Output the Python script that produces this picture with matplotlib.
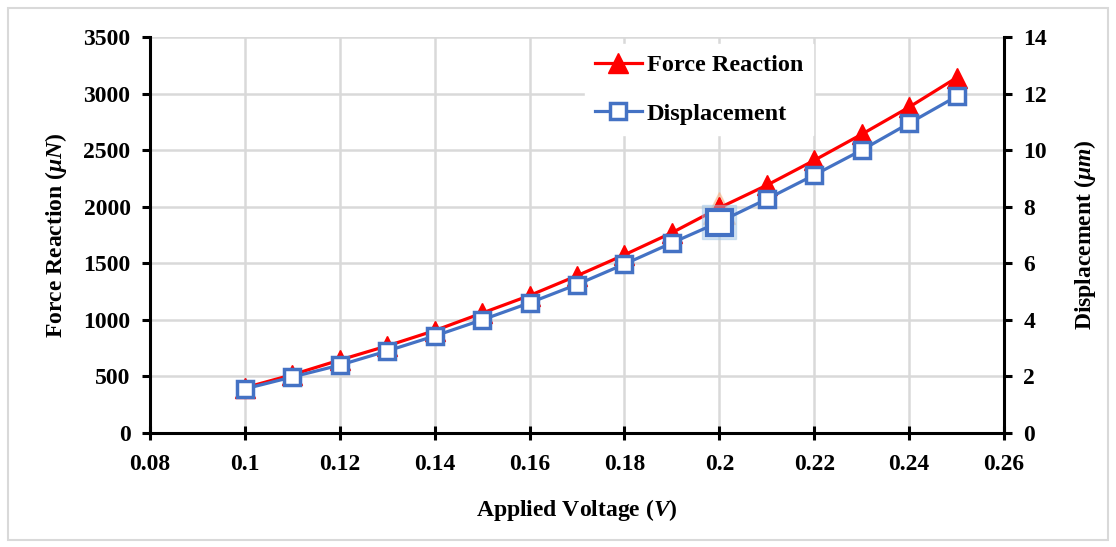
import matplotlib

matplotlib.use("Agg")
import matplotlib.pyplot as plt
from matplotlib.patches import Rectangle

# data
voltage = [0.10, 0.11, 0.12, 0.13, 0.14, 0.15, 0.16, 0.17,
           0.18, 0.19, 0.20, 0.21, 0.22, 0.23, 0.24, 0.25]
force_reaction = [400, 515, 645, 770, 905, 1060, 1215, 1390,
                  1575, 1770, 1990, 2190, 2410, 2640, 2880, 3140]
displacement = [1.56, 1.98, 2.40, 2.90, 3.43, 4.00, 4.60, 5.25,
                5.97, 6.72, 7.46, 8.27, 9.12, 10.00, 10.95, 11.90]
selected = 10  # the highlighted point at 0.2 V

RED = "#FF0000"
BLUE = "#4472C4"
GRID = "#D9D9D9"

plt.rcParams["font.family"] = ["Liberation Serif", "DejaVu Serif"]
plt.rcParams["font.weight"] = "bold"
plt.rcParams["axes.labelweight"] = "bold"
plt.rcParams["mathtext.fontset"] = "custom"
plt.rcParams["mathtext.it"] = "Liberation Serif:italic:bold"
plt.rcParams["mathtext.rm"] = "Liberation Serif:bold"

fig = plt.figure(figsize=(11.16, 5.47), dpi=100)
fig.patches.append(Rectangle((8 / 1116, 7 / 547), 1100 / 1116, 532 / 547,
                             transform=fig.transFigure, fill=False,
                             edgecolor=GRID, linewidth=1.5))

ax = fig.add_axes([150 / 1116, (547 - 433) / 547, 854 / 1116, 396 / 547])
ax2 = ax.twinx()

ax.plot(voltage, force_reaction, color=RED, linewidth=2.3, marker="^",
        markersize=14, markerfacecolor=RED, markeredgecolor=RED,
        label="Force Reaction", zorder=3)
ax.plot(voltage[selected], force_reaction[selected], marker="^",
        markersize=23, color="#F4B183", alpha=0.5, zorder=2)
ax.plot(voltage[selected], force_reaction[selected], marker="^",
        markersize=16, color=RED, zorder=4)

ax2.plot(voltage, displacement, color=BLUE, linewidth=2.3, marker="s",
         markersize=11, markerfacecolor="white", markeredgecolor=BLUE,
         markeredgewidth=2.5, label="Displacement", zorder=3)
ax2.plot(voltage[selected], displacement[selected], marker="s",
         markersize=25, color="#9DC3E6", alpha=0.45, zorder=2)
ax2.plot(voltage[selected], displacement[selected], marker="s",
         markersize=18, markerfacecolor="white", markeredgecolor=BLUE,
         markeredgewidth=3, zorder=4)

ax.set_xlim(0.08, 0.26)
ax.set_ylim(0, 3500)
ax2.set_ylim(0, 14)
ax.set_xticks([0.08 + 0.02 * i for i in range(10)])
ax.set_xticklabels(["0.08", "0.1", "0.12", "0.14", "0.16", "0.18",
                    "0.2", "0.22", "0.24", "0.26"])
ax.set_yticks(range(0, 3501, 500))
ax2.set_yticks(range(0, 15, 2))

ax.grid(True, color=GRID, linewidth=1.8)
ax.set_axisbelow(True)

for a in (ax, ax2):
    a.spines["top"].set_visible(False)
    for side in ("left", "right", "bottom"):
        a.spines[side].set_linewidth(2.2)
        a.spines[side].set_color("black")
ax.spines["right"].set_visible(False)
ax2.spines["left"].set_visible(False)
ax2.spines["bottom"].set_visible(False)

ax.tick_params(axis="y", direction="out", length=6, width=2.2,
               labelsize=17, pad=8)
ax.tick_params(axis="x", direction="inout", length=10, width=2.2,
               labelsize=17, pad=10)
ax2.tick_params(axis="y", direction="out", length=6, width=2.2,
                labelsize=17, pad=8)

ax.set_xlabel(r"Applied Voltage $(V)$", fontsize=17, labelpad=16)
ax.set_ylabel(r"Force Reaction $(\mu N)$", fontsize=17, labelpad=10)
ax2.set_ylabel(r"Displacement $(\mu m)$", fontsize=17, labelpad=18)

h1, l1 = ax.get_legend_handles_labels()
h2, l2 = ax2.get_legend_handles_labels()
leg = ax2.legend(h1 + h2, l1 + l2, loc="upper left",
                 bbox_to_anchor=(0.495, 1.012), frameon=True, fancybox=False,
                 edgecolor="white", framealpha=1, fontsize=17.5,
                 handlelength=1.95, handletextpad=0.2, labelspacing=1.1,
                 borderpad=0.4)
leg.set_zorder(10)

fig.savefig("out.png", dpi=100)
